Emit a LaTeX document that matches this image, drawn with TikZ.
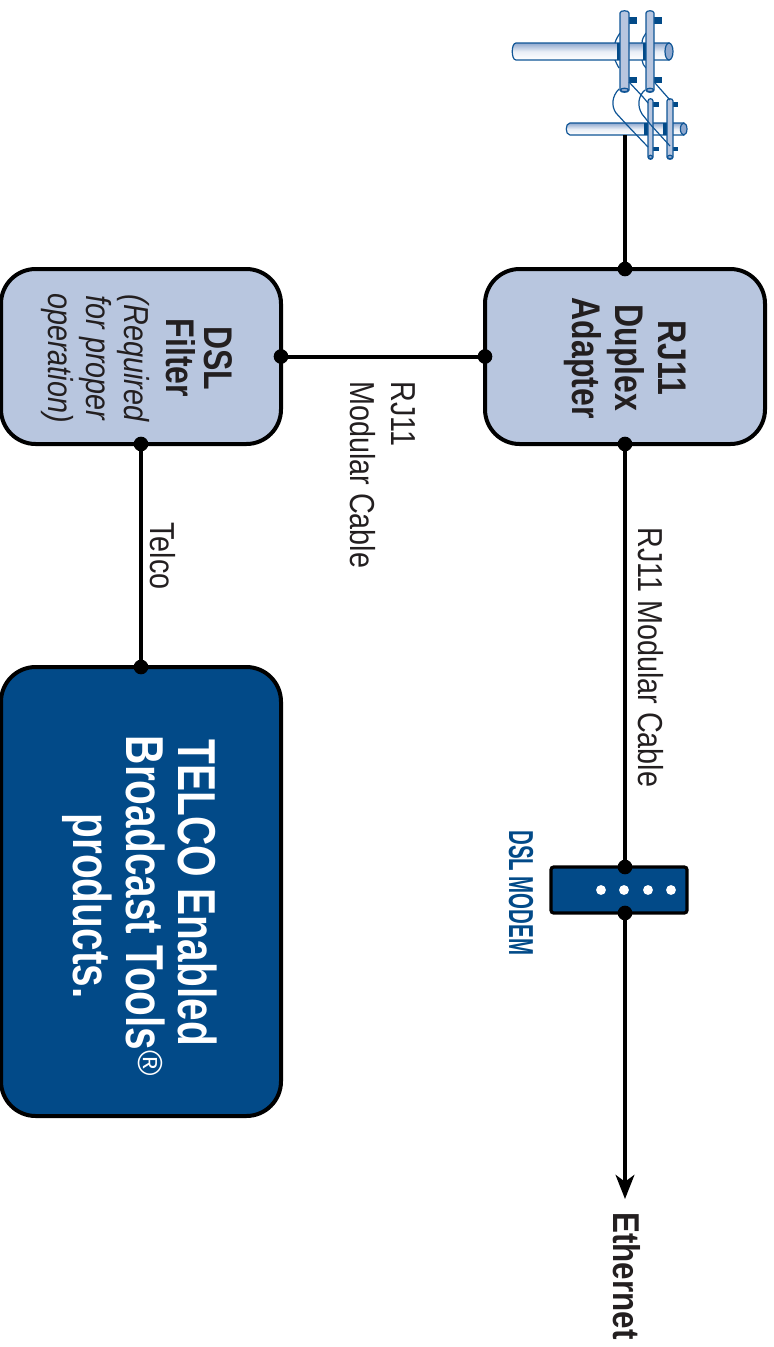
\documentclass[tikz,border=0pt]{standalone}
\usepackage{fontspec}
\usetikzlibrary{arrows.meta}
\setmainfont{Liberation Sans}
\newfontfamily\narrowf[FakeStretch=0.83]{Liberation Sans}
\newfontfamily\boldnarrowf[FakeStretch=0.8]{Liberation Sans}
\newfontfamily\telcof[FakeStretch=0.76]{Liberation Sans}
\newfontfamily\etherf[FakeStretch=0.84]{Liberation Sans}
\newfontfamily\modemf[FakeStretch=0.59]{Liberation Sans}
\definecolor{boxblue}{HTML}{B8C6DF}
\definecolor{deepblue}{HTML}{024A88}
\definecolor{textdark}{HTML}{231F20}
\definecolor{polelight}{HTML}{E9EEF6}
\definecolor{polemid}{HTML}{8FA8CE}
\definecolor{poleline}{HTML}{0F5596}
\tikzset{
  roundbox/.style={draw=black,line width=3pt,rounded corners=26pt,inner sep=0pt,outer sep=0pt,anchor=north west},
  lightbox/.style={roundbox,fill=boxblue},
  darkbox/.style={roundbox,fill=deepblue},
  wire/.style={line width=3pt,black},
  blob/.style={circle,fill=black,inner sep=0pt,minimum size=11pt},
  vtext/.style={rotate=-90,text=textdark,inner sep=0pt},
  plainlabel/.style={vtext,font=\narrowf\fontsize{26}{30.5}\selectfont,anchor=west},
  poleoutline/.style={draw=poleline,line width=0.9pt},
  hpole/.style={poleoutline,top color=polemid,bottom color=white,middle color=polelight},
  arm/.style={poleoutline,fill=boxblue},
  cable/.style={draw=poleline,line width=0.9pt},
  clamp/.style={fill=deepblue,draw=none}
}
\newcommand{\hcyl}[5]{% x1 x2 y1 y2 endrx
  \path[hpole] (#1+4,#3) -- (#2-#5,#3) -- (#2-#5,#4) -- (#1+4,#4) .. controls (#1-1,#4) and (#1-1,#3) .. (#1+4,#3) -- cycle;
  \path[poleoutline,fill=polemid] (#2-#5,{(#3+#4)/2}) ellipse[x radius=#5,y radius={(#4-#3)/2}];
}
\newcommand{\varm}[4]{% x1 x2 y1 y2
  \path[arm] (#1,#4-2) -- (#1,#3+2) .. controls (#1,#3-1) and (#2,#3-1) .. (#2,#3+2) -- (#2,#4-2) .. controls (#2,#4+1) and (#1,#4+1) .. (#1,#4-2) -- cycle;
  \path[poleoutline,fill=polemid] ({(#1+#2)/2},#4-2) ellipse[x radius={(#2-#1)/2-0.5},y radius=1.8];
}
\begin{document}
\begin{tikzpicture}[x=0.75pt,y=-0.75pt]
\useasboundingbox (0,0) rectangle (774,1347);

% boxes
\node[lightbox,minimum width=210pt,minimum height=131.25pt] (dup) at (485,269) {};
\node[lightbox,minimum width=210pt,minimum height=131.25pt] (flt) at (1,269) {};
\node[darkbox,minimum width=210pt,minimum height=336.75pt] (tel) at (1,667) {};
\node[draw=black,line width=2.4pt,fill=deepblue,rounded corners=2pt,minimum width=102pt,minimum height=34.5pt,inner sep=0pt,outer sep=0pt] (mod) at (619,890) {};
\foreach \dx in {601,624,648,671} \fill[white] (\dx,890) circle[radius=3.7pt];
\coordinate (modtop) at (625,867);
\coordinate (modbot) at (625,913);
\coordinate (arrowend) at (625,1199);

% pole art
\coordinate (polefoot) at (625,135);
\hcyl{512}{673}{43}{60}{4}
\hcyl{566}{687}{123}{135}{3.3}
\fill[deepblue] (617,43) rectangle (621,60);
\fill[deepblue] (643,43) rectangle (647,60);
\fill[clamp] (629,17) rectangle (637,24);
\fill[clamp] (629,77) rectangle (637,83);
\fill[clamp] (654,17) rectangle (662,24);
\fill[clamp] (654,77) rectangle (662,83);
\draw[cable] (615,43) .. controls (616,39) and (618,36) .. (620,33);
\draw[cable] (642,43) .. controls (642,39) and (644,36) .. (646,33);
\draw[cable] (615,60) .. controls (616,63) and (618,66) .. (619,68);
\draw[cable] (642,60) .. controls (642,63) and (644,66) .. (646,68);
\varm{620}{629}{11}{92}
\varm{646}{654}{11}{92}
\fill[deepblue] (644,123) rectangle (648,135);
\fill[deepblue] (663,123) rectangle (667,135);
\fill[clamp] (653,102) rectangle (659,107);
\fill[clamp] (653,147) rectangle (659,151);
\fill[clamp] (673,102) rectangle (678,107);
\fill[clamp] (673,147) rectangle (678,151);
\varm{648}{653}{99}{159}
\varm{667}{673}{99}{159}
\draw[cable] (619,89) .. controls (612,96) and (611,106) .. (616,113) -- (627,125) -- (648,147);
\draw[cable] (645,90) .. controls (638,96) and (637,106) .. (642,114) -- (650,124) -- (670,146);
\draw[cable] (629,82) -- (643,97) -- (648,103);
\draw[cable] (655,83) -- (670,100);

% connectors
\draw[wire] (polefoot) -- (dup.north);
\draw[wire] (dup.south) -- (modtop);
\draw[wire,-{Stealth[length=18pt,width=14pt,inset=5pt]}] (modbot) -- (arrowend);
\draw[wire] (flt.east) -- (dup.west);
\draw[wire] (flt.south) -- (tel.north);
\foreach \p in {dup.north,dup.south,dup.west,flt.east,flt.south,tel.north,modtop,modbot}
  \node[blob] at (\p) {};

% labels
\node[vtext,align=center,font=\bfseries\boldnarrowf\fontsize{30}{32.5}\selectfont] (duplabel) at (625,358) {RJ11\\Duplex\\Adapter};
\node[vtext,align=center,font=\narrowf\fontsize{26}{28.5}\selectfont] (fltlabel) at (137,358) {\bfseries\boldnarrowf\fontsize{30}{32}\selectfont DSL\\\bfseries\boldnarrowf\fontsize{30}{32}\selectfont Filter\\[3pt]\itshape (Required\\\itshape for proper\\\itshape operation)};
\node[vtext,align=center,text=white,font=\bfseries\telcof\fontsize{40}{39.5}\selectfont] (tellabel) at (140,906) {TELCO Enabled\hspace*{20pt}\\Broadcast Tools{\raisebox{9pt}{\mdseries\rmfamily\fontsize{26}{26}\selectfont\textregistered}}\\products.};
\node[plainlabel,align=left] (cable1) at (383,381) {RJ11\\Modular Cable};
\node[plainlabel] (telco) at (163,522) {Telco};
\node[plainlabel] (cable2) at (651,527) {RJ11 Modular Cable};
\node[vtext,anchor=west,text=deepblue,font=\bfseries\modemf\fontsize{26}{28}\selectfont] (modem) at (521,830) {DSL MODEM};
\node[vtext,anchor=west,font=\bfseries\etherf\fontsize{28}{30}\selectfont] (ether) at (627,1212) {Ethernet};
\end{tikzpicture}
\end{document}
